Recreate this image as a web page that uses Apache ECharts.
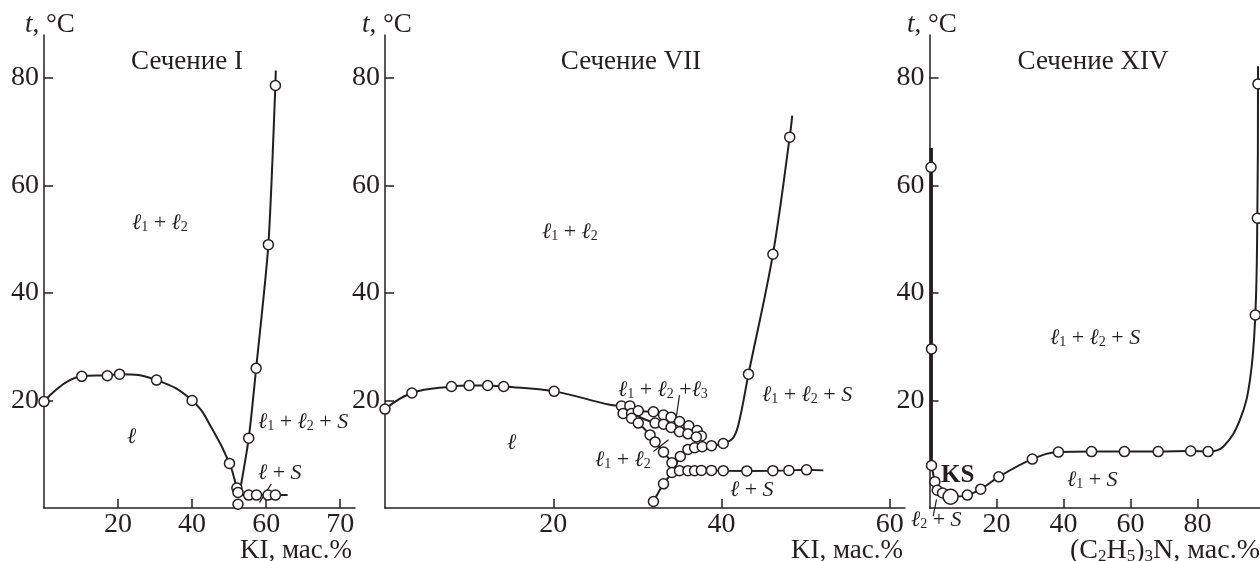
<!DOCTYPE html>
<html><head><meta charset="utf-8">
<script src="https://cdn.jsdelivr.net/npm/echarts@6/dist/echarts.min.js"></script>
<style>html,body{margin:0;padding:0;background:#fff}#c{width:1260px;height:561px}</style>
</head><body><div id="c"></div>
<script>
// ---------- data ----------
const yTicks = [20, 40, 60, 80];
const xTicks1 = [20, 40, 60, 80];
const xTickLabels1 = ['20', '40', '60', '70'];
const xTicks2 = [20, 40, 60];
const xTickLabels2 = ['20', '40', '60'];
const xTicks3 = [20, 40, 60, 80];
const xTickLabels3 = ['20', '40', '60', '80'];

// Section I (KI, wt.%  vs  t, °C)
const p1Liquidus = [[0,19.8],[10.2,24.5],[17.1,24.7],[20.4,24.9],[30.4,23.8],[40,20],[45.6,14.5],[50.1,8.3],[52.1,3.7],[52.7,2.3]];
const p1Steep = [[52.7,2.3],[55.3,13.0],[57.3,26.0],[60.6,49.0],[62.5,78.6],[62.6,81.4]];
const p1Flat = [[52.7,2.4],[55.3,2.4],[57.4,2.4],[60.5,2.4],[62.5,2.4],[65.8,2.4]];
const p1Leader = [[58.2,1.0],[61.4,4.5]];
const p1Points = [[0,19.8],[10.2,24.5],[17.1,24.6],[20.4,24.9],[30.4,23.8],[40,20],[50.1,8.3],[52.1,3.7],[52.4,2.9],[52.4,0.7],
  [55.3,13.0],[57.3,26.0],[60.6,49.0],[62.5,78.6],[55.3,2.4],[57.4,2.4],[60.5,2.4],[62.5,2.4]];

// Section VII
const p2Liquidus = [[0,18.4],[3.2,21.4],[7.9,22.6],[10,22.8],[12.2,22.8],[14.1,22.6],[20.1,21.7],[26.7,19.2],[28.1,19.0]];
const p2BandUpper = [[28.1,19.0],[29.1,19.0],[30.1,18.1],[31.9,17.9],[33.1,17.3],[34.0,16.9],[35.0,16.1],[36.1,15.3],[37.1,14.4],[37.6,13.4]];
const p2BandLower = [[28.3,17.6],[29.3,17.6],[30.7,16.6],[32.1,15.8],[33.1,15.6],[34.0,15.0],[35.0,14.2],[36.0,13.8],[37.0,13.2]];
const p2Branch = [[28.3,17.6],[29.3,16.7],[30.1,15.8],[31.5,13.6],[32.1,12.3],[33.1,10.4],[34.1,8.4],[34.3,6.9]];
const p2Down = [[34.3,6.9],[33.1,4.5],[31.9,1.2]];
const p2Flat = [[34.3,6.9],[35.0,6.95],[36.0,6.95],[36.8,6.95],[37.6,7.0],[38.8,7.0],[40.2,6.95],[43.0,6.9],[46.1,6.95],[48.0,7.0],[50.1,7.1],[52.1,7.0]];
const p2Rising = [[34.3,6.9],[35.1,9.6],[36.0,10.9],[36.8,11.2],[37.7,11.4],[38.8,11.6],[40.2,12.0],[41.3,12.9],[42.0,15.5],[43.2,24.9],[46.1,47.2],[48.1,69.0],[48.4,73.0]];
const p2Leader1 = [[35.0,21.0],[34.6,16.7]];
const p2Leader2 = [[31.9,10.5],[33.7,12.7]];
const p2Points = [[0,18.4],[3.2,21.4],[7.9,22.6],[10,22.8],[12.2,22.8],[14.1,22.6],[20.1,21.7],
  [28.1,19.0],[29.1,19.0],[28.3,17.6],[29.3,17.6],[30.1,18.1],[29.3,16.7],[30.1,15.8],
  [31.9,17.9],[33.1,17.3],[34.0,16.9],[35.0,16.1],[36.1,15.3],[37.1,14.4],[37.6,13.4],
  [32.1,15.8],[33.1,15.6],[34.0,15.0],[35.0,14.2],[36.0,13.8],[37.0,13.2],
  [31.5,13.6],[32.1,12.3],[33.1,10.4],[34.1,8.4],[34.1,6.6],[33.1,4.5],[31.9,1.2],
  [35.0,6.95],[36.0,6.95],[36.8,6.95],[37.6,7.0],[38.8,7.0],[40.2,6.95],[43.0,6.9],[46.1,6.95],[48.0,7.0],[50.1,7.1],
  [35.1,9.6],[36.0,10.9],[36.8,11.2],[37.7,11.4],[38.8,11.6],[40.2,12.0],[43.2,24.9],[46.1,47.2],[48.1,69.0]];

// Section XIV ((C2H5)3N, wt.%)
const p3Vertical = [[0.5,67.0],[0.5,8.0]];
const p3Curve = [[0.6,7.9],[1.6,4.9],[2.3,3.3],[3.9,2.8],[6.3,2.1],[11.3,2.4],[15.3,3.5],[20.7,5.8],[30.7,9.1],[38.5,10.4],[48.4,10.5],[58.2,10.5],[68.3,10.5],[78.0,10.6],[83.2,10.5],[87.7,11.4],[92.7,16.4],[95.7,23.8],[97.3,35.9],[97.9,53.9],[98.1,78.9],[98.1,82.2]];
const p3Leader = [[1.1,-1.5],[2.1,1.6]];
const p3Points = [[0.45,63.4],[0.6,29.6],[0.6,7.9],[1.6,4.9],[2.3,3.3],[3.9,2.8],[11.3,2.4],[15.3,3.5],[20.7,5.8],[30.7,9.1],[38.5,10.4],[48.4,10.5],[58.2,10.5],[68.3,10.5],[78.0,10.6],[83.2,10.5],[97.3,35.9],[97.9,53.9],[98.1,78.9]];
const p3BigPoint = [[6.3,2.1]];

// ---------- styling ----------
const INK = '#231f20';
const SERIF = "'Liberation Serif','Times New Roman',serif";

function rich(size) {
  return {
    l: {fontFamily: SERIF, fontSize: size, fill: INK, color: INK, fontStyle: 'italic'},
    i: {fontFamily: SERIF, fontSize: size, fill: INK, color: INK, fontStyle: 'italic'},
    s: {fontFamily: SERIF, fontSize: Math.round(size * 0.62), fill: INK, color: INK, verticalAlign: 'bottom', lineHeight: Math.round(size * 0.62)},
    n: {fontFamily: SERIF, fontSize: size, fill: INK, color: INK}
  };
}
function txt(x, y, text, size, align, weight) {
  return {type: 'text', x: x, y: y, silent: true, z: 100,
    style: {text: text, fill: INK, fontFamily: SERIF, fontSize: size, fontWeight: weight || 'normal',
      align: align || 'left', textAlign: align || 'left', verticalAlign: 'middle', textVerticalAlign: 'middle',
      rich: rich(size)}};
}

const grids = [
  {left: 44, top: 35, width: 311, height: 473},
  {left: 385, top: 35, width: 520, height: 473},
  {left: 929.5, top: 35, width: 330.5, height: 473}
];
const xMax = [84, 61.8, 98.7];
const xT = [xTicks1, xTicks2, xTicks3];
const xL = [xTickLabels1, xTickLabels2, xTickLabels3];

const xAxes = [0,1,2].map(i => ({
  type: 'value', gridIndex: i, min: 0, max: xMax[i],
  axisLine: {lineStyle: {color: INK, width: 1.5}},
  splitLine: {show: false},
  axisTick: {inside: true, length: 9, customValues: xT[i], lineStyle: {color: INK, width: 1.5}},
  axisLabel: {customValues: xT[i], formatter: v => xL[i][xT[i].indexOf(v)] || '',
    fontFamily: SERIF, fontSize: 28, color: INK, margin: 3}
}));
const yAxes = [0,1,2].map(i => ({
  type: 'value', gridIndex: i, min: 0, max: 88,
  axisLine: {lineStyle: {color: INK, width: 1.5}},
  splitLine: {show: false},
  axisTick: {inside: true, length: 9, customValues: yTicks, lineStyle: {color: INK, width: 1.5}},
  axisLabel: {customValues: yTicks, fontFamily: SERIF, fontSize: 28, color: INK, margin: 5}
}));

function line(i, data, smooth, width) {
  return {type: 'line', xAxisIndex: i, yAxisIndex: i, data: data, smooth: smooth || false,
    symbol: 'none', showSymbol: false, clip: false, silent: true, z: 2,
    lineStyle: {color: INK, width: width || 2}};
}
function dots(i, data, size) {
  return {type: 'scatter', xAxisIndex: i, yAxisIndex: i, data: data, symbol: 'circle',
    symbolSize: size || 10, clip: false, silent: true, z: 5,
    itemStyle: {color: '#fff', borderColor: INK, borderWidth: 1.5, opacity: 1}};
}

const series = [
  line(0, p1Liquidus, 0.45), line(0, p1Steep, 0.25), line(0, p1Flat), line(0, p1Leader, false, 1.2), dots(0, p1Points),
  line(1, p2Liquidus, 0.4), line(1, p2BandUpper, 0.3), line(1, p2BandLower, 0.3), line(1, p2Branch, 0.3),
  line(1, p2Down, 0.2), line(1, p2Flat), line(1, p2Rising, 0.35), line(1, p2Leader1, false, 1.2), line(1, p2Leader2, false, 1.2),
  dots(1, p2Points),
  line(2, p3Vertical, false, 3.5), line(2, p3Curve, 0.4), line(2, p3Leader, false, 1.2), dots(2, p3Points), dots(2, p3BigPoint, 15)
];

const graphics = [
  // axis names
  txt(25, 25, '{i|t}, °C', 27), txt(362, 25, '{i|t}, °C', 27), txt(907, 25, '{i|t}, °C', 27),
  txt(352, 551, 'KI, мас.%', 27, 'right'), txt(903, 551, 'KI, мас.%', 27, 'right'),
  txt(1260, 551, '(C{s|2}H{s|5}){s|3}N, мас.%', 28, 'right'),
  // titles
  txt(187, 62, 'Сечение I', 27, 'center'), txt(631, 62, 'Сечение VII', 27, 'center'), txt(1093, 62, 'Сечение XIV', 27, 'center'),
  // Section I regions
  txt(132, 223, '{l|ℓ}{s|1} + {l|ℓ}{s|2}', 22), txt(127, 437, '{l|ℓ}', 22),
  txt(258, 422, '{l|ℓ}{s|1} + {l|ℓ}{s|2} + {i|S}', 22), txt(258, 473, '{l|ℓ} + {i|S}', 22),
  // Section VII regions
  txt(542, 232, '{l|ℓ}{s|1} + {l|ℓ}{s|2}', 22), txt(507, 443, '{l|ℓ}', 22),
  txt(618, 390, '{l|ℓ}{s|1} + {l|ℓ}{s|2} +{l|ℓ}{s|3}', 22), txt(762, 395, '{l|ℓ}{s|1} + {l|ℓ}{s|2} + {i|S}', 22),
  txt(595, 460, '{l|ℓ}{s|1} + {l|ℓ}{s|2}', 22), txt(730, 490, '{l|ℓ} + {i|S}', 22),
  // Section XIV regions
  txt(1050, 338, '{l|ℓ}{s|1} + {l|ℓ}{s|2} + {i|S}', 22), txt(941, 476, 'KS', 25, 'left', 'bold'),
  txt(1067, 480, '{l|ℓ}{s|1} + {i|S}', 22), txt(911, 520, '{l|ℓ}{s|2} + {i|S}', 22)
];

const chart = echarts.init(document.getElementById('c'), null, {renderer: 'canvas'});
chart.setOption({
  animation: false,
  backgroundColor: '#fff',
  grid: grids,
  xAxis: xAxes,
  yAxis: yAxes,
  series: series,
  graphic: graphics
});
</script>
</body></html>
